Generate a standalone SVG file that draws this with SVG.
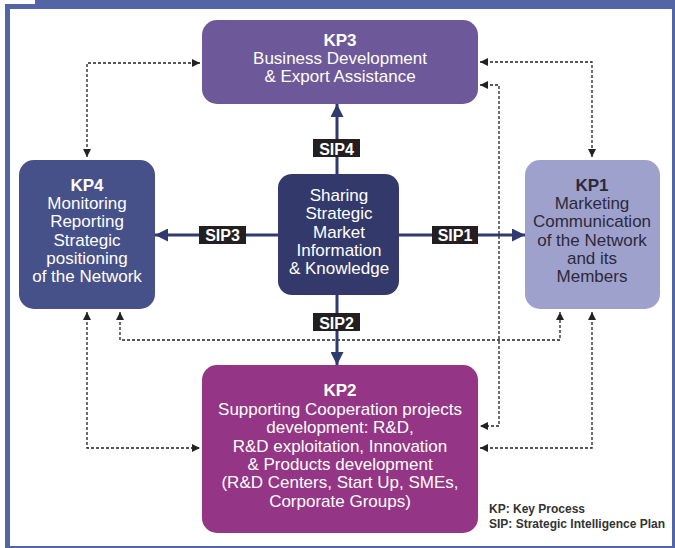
<svg xmlns="http://www.w3.org/2000/svg" width="675" height="548" viewBox="0 0 675 548">
<style>
  .t { font-family: "Liberation Sans", Arial, sans-serif; font-size: 17px; text-anchor: middle; fill: #ffffff; }
  .b { font-weight: bold; }
  .dk { fill: #2b2a3a; }
  .dot { fill: none; stroke: #222222; stroke-width: 1.3; stroke-dasharray: 3 2; }
  .sip { fill: none; stroke: #2f3a6e; stroke-width: 3; }
  .lbl { fill: #231f20; }
  .lt { font-family: "Liberation Sans", Arial, sans-serif; font-size: 16px; font-weight: bold; fill: #ffffff; text-anchor: middle; }
  .leg { font-family: "Liberation Sans", Arial, sans-serif; font-size: 12px; font-weight: bold; fill: #333333; }
</style>
<defs>
  <marker id="ad" viewBox="0 0 10 10" refX="10" refY="5" markerWidth="9" markerHeight="8" markerUnits="userSpaceOnUse" orient="auto-start-reverse">
    <path d="M0,0 L10,5 L0,10 z" fill="#222222"/>
  </marker>
  <marker id="as" viewBox="0 0 10 10" refX="10" refY="5" markerWidth="16" markerHeight="13" markerUnits="userSpaceOnUse" orient="auto">
    <path d="M0,0 L10,5 L0,10 z" fill="#2f3a6e"/>
  </marker>
</defs>

<!-- frame -->
<rect x="0" y="0" width="675" height="548" fill="#ffffff"/>
<path d="M35,0 H675 V548 H5 V4 H35 Z" fill="#5465a6"/>
<rect x="10" y="9" width="662" height="537" fill="#ffffff"/>

<g id="connectors">
  <path class="dot" d="M87,157 V63 H200" marker-start="url(#ad)" marker-end="url(#ad)"/>
  <path class="dot" d="M480,62 H592 V157" marker-start="url(#ad)" marker-end="url(#ad)"/>
  <path class="dot" d="M480,85 H499 V426 H480" marker-start="url(#ad)" marker-end="url(#ad)"/>
  <path class="dot" d="M120,312 V340 H560 V312" marker-start="url(#ad)" marker-end="url(#ad)"/>
  <path class="dot" d="M87,312 V448 H200" marker-start="url(#ad)" marker-end="url(#ad)"/>
  <path class="dot" d="M592,312 V448 H480" marker-start="url(#ad)" marker-end="url(#ad)"/>

  <path class="sip" d="M337,174 V104" marker-end="url(#as)"/>
  <path class="sip" d="M337,295 V365" marker-end="url(#as)"/>
  <path class="sip" d="M278,235 H155" marker-end="url(#as)"/>
  <path class="sip" d="M399,235 H525" marker-end="url(#as)"/>

  <rect class="lbl" x="313" y="139" width="47" height="18"/>
  <text class="lt" x="336.5" y="155">SIP4</text>
  <rect class="lbl" x="313" y="313" width="47" height="18"/>
  <text class="lt" x="336.5" y="329">SIP2</text>
  <rect class="lbl" x="199" y="226" width="47" height="18"/>
  <text class="lt" x="222.5" y="241">SIP3</text>
  <rect class="lbl" x="432" y="226" width="46" height="18"/>
  <text class="lt" x="455" y="241">SIP1</text>
</g>

<g id="kp3">
  <rect x="202" y="20" width="276" height="84" rx="15" fill="#6d5899"/>
  <text class="t b" x="340" y="46">KP3</text>
  <text class="t" x="340" y="64">Business Development</text>
  <text class="t" x="340" y="82">&amp; Export Assistance</text>
</g>

<g id="kp4">
  <rect x="19" y="160" width="136" height="149" rx="15" fill="#465089"/>
  <text class="t b" x="87" y="191">KP4</text>
  <text class="t" x="87" y="209">Monitoring</text>
  <text class="t" x="87" y="227">Reporting</text>
  <text class="t" x="87" y="246">Strategic</text>
  <text class="t" x="87" y="264">positioning</text>
  <text class="t" x="87" y="282">of the Network</text>
</g>

<g id="center">
  <rect x="278" y="174" width="121" height="121" rx="14" fill="#33396b"/>
  <text class="t" x="339" y="201">Sharing</text>
  <text class="t" x="339" y="219">Strategic</text>
  <text class="t" x="339" y="238">Market</text>
  <text class="t" x="339" y="256">Information</text>
  <text class="t" x="339" y="274">&amp; Knowledge</text>
</g>

<g id="kp1">
  <rect x="525" y="160" width="135" height="149" rx="15" fill="#9fa1cd"/>
  <text class="t b dk" x="592" y="191">KP1</text>
  <text class="t dk" x="592" y="209">Marketing</text>
  <text class="t dk" x="592" y="227">Communication</text>
  <text class="t dk" x="592" y="246">of the Network</text>
  <text class="t dk" x="592" y="264">and its</text>
  <text class="t dk" x="592" y="282">Members</text>
</g>

<g id="kp2">
  <rect x="202" y="365" width="276" height="168" rx="15" fill="#943586"/>
  <text class="t b" x="340" y="396">KP2</text>
  <text class="t" x="340" y="415">Supporting Cooperation projects</text>
  <text class="t" x="340" y="433">development: R&amp;D,</text>
  <text class="t" x="340" y="452">R&amp;D exploitation, Innovation</text>
  <text class="t" x="340" y="470">&amp; Products development</text>
  <text class="t" x="340" y="488">(R&amp;D Centers, Start Up, SMEs,</text>
  <text class="t" x="340" y="507">Corporate Groups)</text>
</g>

<g id="legend">
  <text class="leg" x="489" y="513">KP: Key Process</text>
  <text class="leg" x="489" y="528">SIP: Strategic Intelligence Plan</text>
</g>
</svg>
